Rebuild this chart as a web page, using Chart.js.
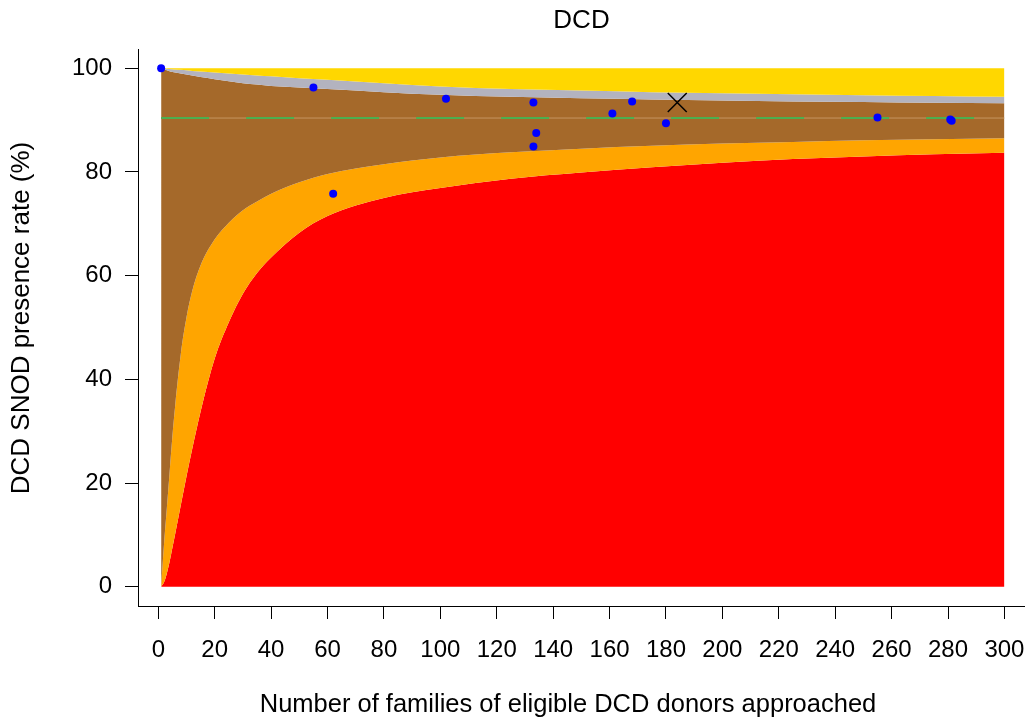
<!DOCTYPE html>
<html>
<head>
<meta charset="utf-8">
<title>DCD</title>
<script src="https://cdn.jsdelivr.net/npm/chart.js@4.4.1/dist/chart.umd.min.js"></script>
<style>
  html, body { margin: 0; padding: 0; background: #fff; }
  canvas { display: block; }
</style>
</head>
<body>
<canvas id="funnel" width="1025" height="720"></canvas>
<script>
// Kontrollgrenzen
const bandX    = [1, 2, 3, 4, 5, 6, 8, 10, 12, 15, 20, 25, 30, 35, 40, 50, 60, 80, 100, 125, 150, 175, 200, 225, 250, 275, 300];
const upper998 = [100, 99.95, 99.9, 99.85, 99.8, 99.75, 99.7, 99.6, 99.5, 99.4, 99.2, 99.0, 98.8, 98.62, 98.45, 98.1, 97.8, 97.1, 96.5, 96.0, 95.7, 95.4, 95.2, 95.0, 94.8, 94.65, 94.5];
const upper95  = [100, 99.8, 99.6, 99.45, 99.3, 99.2, 99.0, 98.8, 98.6, 98.3, 97.9, 97.5, 97.1, 96.85, 96.6, 96.3, 96.0, 95.4, 94.9, 94.5, 94.2, 94.0, 93.8, 93.6, 93.5, 93.35, 93.25];
const lower95  = [0, 8, 15, 22, 29, 35, 45, 52, 57, 62, 67, 70.2, 72.6, 74.3, 75.8, 78.0, 79.6, 81.5, 82.8, 83.8, 84.5, 85.05, 85.5, 85.8, 86.1, 86.3, 86.5];
const lower998 = [0, 0.8, 2.5, 4.8, 7.5, 10.2, 15.8, 21.3, 26.5, 33.8, 44, 51, 56.5, 60.5, 63.5, 68.3, 71.5, 75, 76.9, 78.7, 79.9, 80.9, 81.8, 82.5, 83.0, 83.4, 83.7];

// Zentren
const approached   = [1, 55, 62, 102, 133, 134, 133, 161, 168, 180, 255, 280.8, 281.3];
const presenceRate = [100, 96.3, 75.8, 94.1, 93.4, 87.5, 84.9, 91.3, 93.6, 89.4, 90.5, 90.1, 89.9];

// Gesamtwert (Kreuz) und Mittelwert
const overallX = [184];
const overallY = [93.4];
const targetX = [1, 300];
const targetY = [90.4, 90.4];

// Achsenbeschriftungen
const xTicks = [0, 20, 40, 60, 80, 100, 120, 140, 160, 180, 200, 220, 240, 260, 280, 300];
const yTicks = [0, 20, 40, 60, 80, 100];
const xTitle = "Number of families of eligible DCD donors approached";
const yTitle = "DCD SNOD presence rate (%)";

const FONT = "'Liberation Sans', Arial, sans-serif";

const toPoints = (xs, ys) => xs.map((x, i) => ({ x: x, y: ys[i] }));

function band(values, color, fill) {
  return {
    data: toPoints(bandX, values),
    borderColor: "transparent",
    borderWidth: 0,
    backgroundColor: color,
    fill: fill,
    pointRadius: 0,
    cubicInterpolationMode: "monotone"
  };
}

// Achsentitel wie in R (etwas links/oben von der Mitte)
const axisTitles = {
  id: "axisTitles",
  afterDraw(chart) {
    const ctx = chart.ctx;
    ctx.save();
    ctx.fillStyle = "#000";
    ctx.font = "25.5px " + FONT;
    ctx.textAlign = "center";
    ctx.textBaseline = "alphabetic";
    ctx.fillText(xTitle, 568, 712);
    ctx.font = "26px " + FONT;
    ctx.translate(29, 318);
    ctx.rotate(-Math.PI / 2);
    ctx.fillText(yTitle, 0, 0);
    ctx.restore();
  }
};

Chart.defaults.font.family = FONT;
Chart.defaults.color = "#000";

const tickFont = { size: 24, weight: "normal" };

new Chart(document.getElementById("funnel"), {
  type: "line",
  data: {
    datasets: [
      {
        data: toPoints(approached, presenceRate),
        showLine: false,
        pointRadius: 4,
        pointBackgroundColor: "#0000ff",
        pointBorderWidth: 0
      },
      {
        data: toPoints(overallX, overallY),
        showLine: false,
        pointStyle: "crossRot",
        pointRadius: 13.4,
        pointBorderColor: "#000",
        pointBorderWidth: 1.5
      },
      {
        data: toPoints(targetX, targetY),
        borderColor: "#4caf50",
        borderWidth: 2,
        borderDash: [48, 37],
        pointRadius: 0,
        fill: false
      },
      {
        data: toPoints(targetX, targetY),
        borderColor: "rgba(205,160,110,0.8)",
        borderWidth: 1,
        pointRadius: 0,
        fill: false
      },
      band(upper998, "#ffd700", { value: 100 }),
      band(upper95, "#b3b3bf", "-1"),
      band(lower95, "#a5692a", "-1"),
      band(lower998, "#ffa500", "-1"),
      band(lower998, "#ff0000", "origin")
    ]
  },
  options: {
    responsive: false,
    devicePixelRatio: 1,
    animation: false,
    layout: { padding: 0, autoPadding: false },
    plugins: {
      legend: { display: false },
      tooltip: { enabled: false },
      title: {
        display: true,
        text: "DCD",
        fullSize: false,
        font: { size: 26, weight: "normal" },
        color: "#000",
        padding: { top: 5.5, bottom: 12.3 }
      }
    },
    scales: {
      x: {
        type: "linear",
        min: -7.2,
        max: 307.3,
        afterBuildTicks: s => { s.ticks = xTicks.map(v => ({ value: v })); },
        afterFit: s => { s.height = 114; s.paddingLeft = 0; s.paddingRight = 0; },
        ticks: { font: tickFont, padding: 17, maxRotation: 0, autoSkip: false },
        grid: { drawOnChartArea: false, drawTicks: true, tickLength: 13, color: "#000" },
        border: { display: true, color: "#000", width: 1 }
      },
      y: {
        type: "linear",
        min: -3.72,
        max: 103.72,
        afterBuildTicks: s => { s.ticks = yTicks.map(v => ({ value: v })); },
        afterFit: s => { s.width = 138; s.paddingTop = 0; s.paddingBottom = 0; },
        ticks: { font: tickFont, padding: 13 },
        grid: { drawOnChartArea: false, drawTicks: true, tickLength: 13, color: "#000" },
        border: { display: true, color: "#000", width: 1 }
      }
    }
  },
  plugins: [axisTitles]
});
</script>
</body>
</html>
